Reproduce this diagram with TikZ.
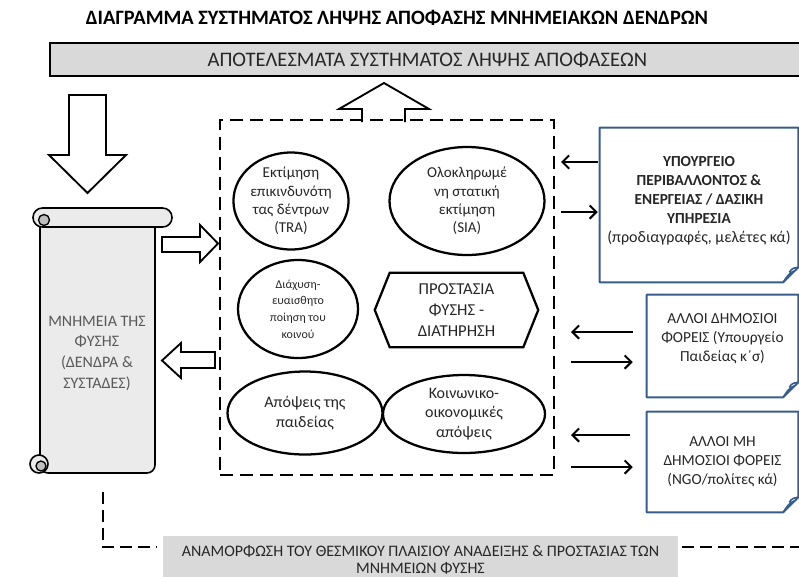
\documentclass[tikz,border=0pt]{standalone}
\usepackage{fontspec}
\setmainfont{Carlito}
\usetikzlibrary{shapes.geometric,arrows.meta,calc}
\definecolor{boxgray}{HTML}{D9D9D9}
\definecolor{scrollfill}{HTML}{EBEBEB}
\definecolor{curlgray}{HTML}{BFBFBF}
\definecolor{txtgray}{HTML}{595959}
\definecolor{bluebord}{HTML}{385D8A}
\begin{document}
\begin{tikzpicture}[x=0.75pt,y=-0.75pt,
  ell/.style={ellipse, draw, line width=1.7pt, inner sep=0pt, align=center, font=\fontsize{11.3}{13.7}\selectfont, text=black!85},
  blockarrow/.style={draw, line width=1.4pt, fill=white, line join=miter},
  conn/.style={line width=1.5pt, -{Straight Barb[length=5pt,width=10pt,line width=1.5pt]}},
  bdash/.style={line width=1.1pt, dash pattern=on 9pt off 4.5pt},
  rtext/.style={align=center, inner sep=0pt, font=\fontsize{11.5}{14.2}\selectfont, text=black!85},
  rboxframe/.style={draw=bluebord, line width=1.5pt, fill=white, line join=round}
]
\useasboundingbox (0,0) rectangle (799,576);

% title
\node[font=\bfseries\fontsize{15.3}{18}\selectfont] (title) at (397,18) {ΔΙΑΓΡΑΜΜΑ ΣΥΣΤΗΜΑΤΟΣ ΛΗΨΗΣ ΑΠΟΦΑΣΗΣ ΜΝΗΜΕΙΑΚΩΝ ΔΕΝΔΡΩΝ};

% top result box
\node[draw, line width=1pt, fill=boxgray, minimum width=755*.75pt, minimum height=33*.75pt, inner sep=0pt,
      font=\fontsize{15.5}{17}\selectfont, text=black!85] (results) at (427.5,59.5) {ΑΠΟΤΕΛΕΣΜΑΤΑ ΣΥΣΤΗΜΑΤΟΣ ΛΗΨΗΣ ΑΠΟΦΑΣΕΩΝ};

% down arrow into scroll
\draw[blockarrow] (69,95) -- (106,95) -- (106,155) -- (126,155) -- (87.5,193) -- (49,155) -- (69,155) -- cycle;

% up arrow from decision box to results
\draw[blockarrow] (362,122) -- (362,109) -- (339,109) -- (384,83) -- (429,109) -- (405,109) -- (405,122);

% scroll
\draw[line width=1.2pt, fill=scrollfill, rounded corners=6pt] (40,218) -- (155,218) -- (155,473) -- (40,473) -- cycle;
\draw[line width=1.2pt, fill=scrollfill, rounded corners=7pt] (33,208) rectangle (172,227);
\draw[line width=1pt, fill=curlgray] (44,220) circle[radius=5.5];
\draw[line width=1.2pt, fill=scrollfill] (39,464) circle[radius=9];
\draw[line width=1pt, fill=curlgray] (41,466) circle[radius=5];
\node[minimum width=115*.75pt, minimum height=255*.75pt, inner sep=0pt] (scroll) at (97.5,345.5) {};
\node[align=center, font=\fontsize{12}{15.5}\selectfont, text=txtgray] (scrolltext) at (97,353) {ΜΝΗΜΕΙΑ ΤΗΣ\\ΦΥΣΗΣ\\(ΔΕΝΔΡΑ \&\\ΣΥΣΤΑΔΕΣ)};

% dashed decision box
\node[draw, line width=1.5pt, dash pattern=on 10pt off 5pt, minimum width=334*.75pt, minimum height=355*.75pt, inner sep=0pt] (dbox) at (387,297.5) {};

% block arrows scroll <-> dbox
\draw[blockarrow] (162,237) -- (200,237) -- (200,225) -- (218,243.5) -- (200,262) -- (200,252) -- (162,252) -- cycle;
\draw[blockarrow] (215,352) -- (181,352) -- (181,343) -- (162,360.5) -- (181,378) -- (181,368) -- (215,368) -- cycle;

% ellipses
\node[ell, minimum width=107*.75pt, minimum height=97*.75pt] (tra) at (291,201) {Εκτίμηση\\επικινδυνότη\\τας δέντρων\\(TRA)};
\node[ell, minimum width=155*.75pt, minimum height=108*.75pt] (sia) at (467,201) {Ολοκληρωμέ\\νη στατική\\εκτίμηση\\(SIA)};
\node[ell, minimum width=120*.75pt, minimum height=98*.75pt, font=\fontsize{9}{12.5}\selectfont] (aware) at (298,309) {Διάχυση-\\ευαισθητο\\ποίηση του\\κοινού};
\node[align=center, inner sep=0pt, minimum width=163*.75pt, minimum height=74*.75pt, font=\fontsize{12.5}{16}\selectfont, text=black!85] (prot) at (456.5,310) {ΠΡΟΣΤΑΣΙΑ\\ΦΥΣΗΣ -\\ΔΙΑΤΗΡΗΣΗ};
\draw[line width=1.7pt, line join=miter] (prot.west) -- ($(prot.north west)+(15,0)$) -- ($(prot.north east)+(-15,0)$) -- (prot.east) -- ($(prot.south east)+(-15,0)$) -- ($(prot.south west)+(15,0)$) -- cycle;
\node[ell, minimum width=155*.75pt, minimum height=83*.75pt, font=\fontsize{12}{15}\selectfont] (edu) at (305,413) {Απόψεις της\\παιδείας};
\node[ell, minimum width=162*.75pt, minimum height=78*.75pt, font=\fontsize{12}{14.5}\selectfont] (socio) at (464,414) {Κοινωνικο-\\οικονομικές\\απόψεις};

% right boxes
\node[minimum width=198*.75pt, minimum height=154*.75pt, inner sep=0pt] (b1) at (699,205) {};
\node[minimum width=151*.75pt, minimum height=102*.75pt, inner sep=0pt] (b2) at (722.5,346) {};
\node[minimum width=151*.75pt, minimum height=100*.75pt, inner sep=0pt] (b3) at (722.5,462) {};
\foreach \b in {b1,b2,b3}{
  \draw[rboxframe] (\b.north west) -- (\b.north east) -- ($(\b.south east)+(0,-15)$) -- ($(\b.south east)+(-15,0)$) -- (\b.south west) -- cycle;
  \draw[draw=bluebord, line width=1.2pt, fill=white, line join=round] ($(\b.south east)+(-15,0)$) .. controls ($(\b.south east)+(-10,-8)$) .. ($(\b.south east)+(-3,-12)$) -- ($(\b.south east)+(0,-15)$) .. controls ($(\b.south east)+(-6,-14)$) .. ($(\b.south east)+(-9,-10)$);
}
\node[rtext] at (699,201) {\textbf{ΥΠΟΥΡΓΕΙΟ}\\\textbf{ΠΕΡΙΒΑΛΛΟΝΤΟΣ \&}\\\textbf{ΕΝΕΡΓΕΙΑΣ / ΔΑΣΙΚΗ}\\\textbf{ΥΠΗΡΕΣΙΑ}\\{\fontsize{12}{14.2}\selectfont(προδιαγραφές, μελέτες κά)}};
\node[rtext] at (722.5,339) {ΑΛΛΟΙ ΔΗΜΟΣΙΟΙ\\ΦΟΡΕΙΣ (Υπουργείο\\Παιδείας κ΄σ)};
\node[rtext] at (722.5,462) {ΑΛΛΟΙ ΜΗ\\ΔΗΜΟΣΙΟΙ ΦΟΡΕΙΣ\\(NGO/πολίτες κά)};

% connectors with right boxes
\draw[conn, shorten <=2*.75pt, shorten >=6*.75pt] (b1.west |- 0,162) -- (dbox.east |- 0,162);
\draw[conn, shorten <=6*.75pt, shorten >=2*.75pt] (dbox.east |- 0,212) -- (b1.west |- 0,212);
\draw[conn, shorten <=14*.75pt, shorten >=16*.75pt] (b2.west |- 0,332) -- (dbox.east |- 0,332);
\draw[conn, shorten <=16*.75pt, shorten >=14*.75pt] (dbox.east |- 0,362) -- (b2.west |- 0,362);
\draw[conn, shorten <=17*.75pt, shorten >=16*.75pt] (b3.west |- 0,435) -- (dbox.east |- 0,435);
\draw[conn, shorten <=16*.75pt, shorten >=14*.75pt] (dbox.east |- 0,467) -- (b3.west |- 0,467);

% bottom reform box
\node[fill=boxgray, minimum width=515*.75pt, minimum height=48*.75pt, inner sep=0pt, align=center,
      font=\fontsize{12}{12.5}\selectfont, text=black!85] (reform) at (420.5,560) {ΑΝΑΜΟΡΦΩΣΗ ΤΟΥ ΘΕΣΜΙΚΟΥ ΠΛΑΙΣΙΟΥ ΑΝΑΔΕΙΞΗΣ \& ΠΡΟΣΤΑΣΙΑΣ ΤΩΝ\\ΜΝΗΜΕΙΩΝ ΦΥΣΗΣ};
\coordinate (sb) at (103,492);
\coordinate (re) at (799,547);
\draw[bdash] (sb) |- ([xshift=-6*.75pt]reform.west |- re);
\draw[bdash] ([xshift=4*.75pt]reform.east |- re) -- (re);
\end{tikzpicture}
\end{document}
